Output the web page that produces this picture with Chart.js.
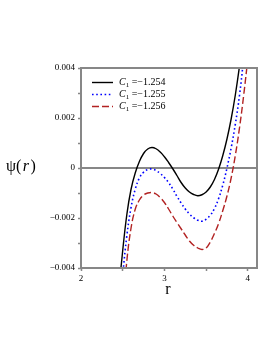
<!DOCTYPE html>
<html>
<head>
<meta charset="utf-8">
<script src="https://cdn.jsdelivr.net/npm/chart.js@4.4.1/dist/chart.umd.min.js"></script>
<style>
  html, body { margin: 0; padding: 0; background: #fff; }
  #wrap { width: 278px; height: 360px; position: relative; }
</style>
</head>
<body>
<div id="wrap"><canvas id="psiChart"></canvas></div>
<script>
// Datos
const rVals = [2.45, 2.5, 2.55, 2.6, 2.65, 2.7, 2.75, 2.8, 2.85, 2.9, 2.95, 3.0, 3.05, 3.1, 3.15, 3.2,
    3.25, 3.3, 3.35, 3.4, 3.45, 3.5, 3.55, 3.6, 3.65, 3.7, 3.75, 3.8, 3.85, 3.9, 3.95, 4.0, 4.05];
const psiA = [-0.005, -0.0033, -0.00185, -0.00085, -0.0002, 0.00026, 0.00058, 0.00076, 0.00082, 0.00077,
    0.00064, 0.00045, 0.00022, -0.00003, -0.0003, -0.00058, -0.0008, -0.00096, -0.00106, -0.00111,
    -0.00107, -0.00096, -0.00076, -0.00046, -0.00004, 0.0005, 0.00116, 0.00196, 0.00292, 0.00407, 0.0054, 0.0069, 0.0087];
const psiB = [-0.0063, -0.0043, -0.0027, -0.00158, -0.00085, -0.0004, -0.00017, -0.00006, -0.00004, -0.0001,
    -0.00022, -0.00038, -0.00058, -0.00084, -0.00113, -0.0014, -0.00164, -0.00184, -0.00199, -0.00209,
    -0.00213, -0.00205, -0.00189, -0.00162, -0.00122, -0.00068, 0.0, 0.0008, 0.00175, 0.0029, 0.0044, 0.0061, 0.008];
const psiC = [-0.0085, -0.0058, -0.0037, -0.0024, -0.00165, -0.00128, -0.00108, -0.001, -0.00098, -0.00104,
    -0.00118, -0.00138, -0.00164, -0.00192, -0.00218, -0.00243, -0.00268, -0.00292, -0.00309, -0.0032,
    -0.00326, -0.0032, -0.00296, -0.00262, -0.00222, -0.0017, -0.00112, -0.0004, 0.0005, 0.0016, 0.0029, 0.0044, 0.0062];
const c1Vals = ['−1.254', '−1.255', '−1.256'];
const xTickVals = [2, 3, 4];
const yTickVals = [-0.004, -0.002, 0, 0.002, 0.004];

const GRAY = '#878787';
const SERIF = '"Liberation Serif", "DejaVu Serif", serif';

const toPts = arr => rVals.map((r, i) => ({ x: r, y: arr[i] }));

// marco, linea del cero, etiquetas y leyenda
const framePlugin = {
    id: 'frame',
    beforeDatasetsDraw(chart) {
        const { ctx, chartArea: a, scales } = chart;
        const y0 = scales.y.getPixelForValue(0);
        ctx.save();
        ctx.strokeStyle = GRAY;
        ctx.lineWidth = 2;
        ctx.beginPath();
        ctx.moveTo(a.left, y0);
        ctx.lineTo(a.right, y0);
        ctx.stroke();
        ctx.restore();
    },
    afterDatasetsDraw(chart) {
        const { ctx, chartArea: a } = chart;
        ctx.save();
        ctx.strokeStyle = GRAY;
        ctx.lineWidth = 2;
        ctx.strokeRect(a.left, a.top, a.right - a.left, a.bottom - a.top);

        // leyenda
        chart.data.datasets.forEach((ds, i) => {
            const y = 82.5 + i * 12;
            ctx.strokeStyle = ds.borderColor;
            ctx.lineWidth = ds.borderWidth;
            ctx.setLineDash(ds.borderDash || []);
            ctx.beginPath();
            ctx.moveTo(92, y);
            ctx.lineTo(113, y);
            ctx.stroke();
            ctx.setLineDash([]);
            ctx.fillStyle = '#000';
            ctx.textBaseline = 'middle';
            ctx.textAlign = 'left';
            let x = 119;
            ctx.font = 'italic 10px ' + SERIF;
            ctx.fillText('C', x, y);
            x += ctx.measureText('C').width;
            ctx.font = '7px ' + SERIF;
            ctx.fillText('1', x, y + 3);
            x += ctx.measureText('1').width + 2.5;
            ctx.font = '10px ' + SERIF;
            ctx.fillText('=' + c1Vals[i], x, y);
        });

        // titulos de ejes
        ctx.fillStyle = '#000';
        ctx.textBaseline = 'middle';
        ctx.textAlign = 'left';
        let x = 6;
        const ty = 167;
        ctx.font = '16px ' + SERIF;
        ctx.fillText('ψ(', x, ty);
        x += ctx.measureText('ψ(').width + 1.5;
        ctx.font = 'italic 16px ' + SERIF;
        ctx.fillText('r', x, ty);
        x += ctx.measureText('r').width + 1.5;
        ctx.font = '16px ' + SERIF;
        ctx.fillText(')', x, ty);

        ctx.textAlign = 'center';
        ctx.fillText('r', 168, 290);
        ctx.restore();
    }
};

const isMajor = (v, step) => Math.abs(v / step - Math.round(v / step)) < 1e-6;

new Chart(document.getElementById('psiChart'), {
    type: 'line',
    data: {
        datasets: [
            { label: 'C1 = ' + c1Vals[0], data: toPts(psiA), borderColor: '#000000', borderWidth: 1.4 },
            { label: 'C1 = ' + c1Vals[1], data: toPts(psiB), borderColor: '#0000ff', borderWidth: 1.6, borderDash: [1.6, 2.6] },
            { label: 'C1 = ' + c1Vals[2], data: toPts(psiC), borderColor: '#b22222', borderWidth: 1.4, borderDash: [7, 3] },
        ]
    },
    options: {
        responsive: true, maintainAspectRatio: false, animation: false,
        devicePixelRatio: 1,
        layout: { padding: { left: 0, top: 68, right: 21, bottom: 0 } },
        elements: { point: { radius: 0 }, line: { tension: 0.4, fill: false } },
        datasets: { line: { clip: 0 } },
        plugins: { legend: { display: false }, tooltip: { enabled: false } },
        scales: {
            x: {
                type: 'linear', min: 2, max: 4.11,
                afterFit(scale) { scale.height = 92; },
                afterBuildTicks(scale) { scale.ticks = [2, 2.5, 3, 3.5, 4].map(v => ({ value: v })); },
                border: { display: false },
                grid: { drawOnChartArea: false, tickLength: 3, tickColor: GRAY, tickWidth: 1.5 },
                ticks: {
                    padding: 2, color: '#000', font: { family: SERIF, size: 9 },
                    maxRotation: 0, autoSkip: false,
                    callback: v => xTickVals.includes(v) ? String(v) : ''
                }
            },
            y: {
                min: -0.004, max: 0.004,
                afterFit(scale) { scale.width = 81; },
                afterBuildTicks(scale) {
                    scale.ticks = [-0.004, -0.003, -0.002, -0.001, 0, 0.001, 0.002, 0.003, 0.004].map(v => ({ value: v }));
                },
                border: { display: false },
                grid: { drawOnChartArea: false, tickLength: 3, tickColor: GRAY, tickWidth: 1.5 },
                ticks: {
                    padding: 3, color: '#000', font: { family: SERIF, size: 9 }, autoSkip: false,
                    callback: v => {
                        if (!isMajor(v, 0.002)) return '';
                        const hit = yTickVals.find(t => Math.abs(t - v) < 1e-9);
                        if (hit === 0) return '0';
                        return (hit < 0 ? '−' : '') + Math.abs(hit).toFixed(3);
                    }
                }
            }
        }
    },
    plugins: [framePlugin]
});
</script>
</body>
</html>
